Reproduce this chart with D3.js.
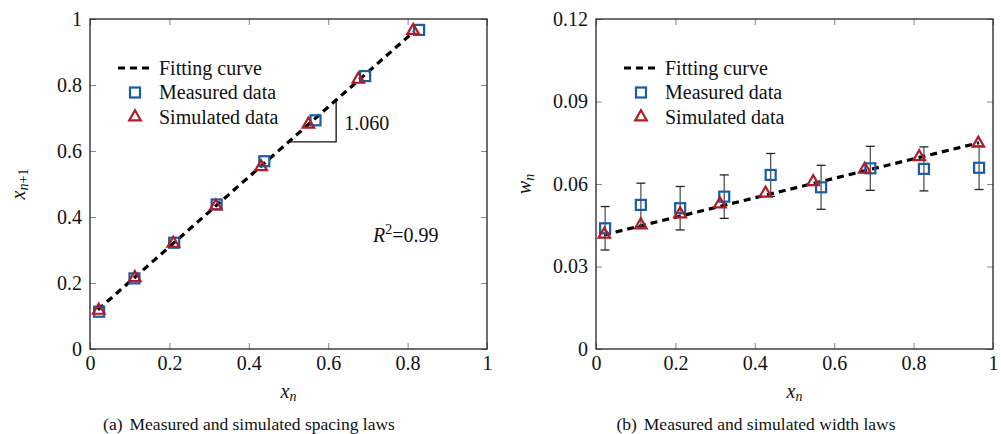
<!DOCTYPE html>
<html>
<head>
<meta charset="utf-8">
<style>
  html, body { margin: 0; padding: 0; background: #fff; }
  svg text { font-family: "Liberation Serif", "Times New Roman", serif; fill: #111; }
</style>
</head>
<body>
<div id="chart"></div>
<script src="https://cdn.jsdelivr.net/npm/d3@7"></script>
<script>
// ---- data ----
// (a) spacing law
const spMeasX = [0.023, 0.112, 0.212, 0.319, 0.439, 0.568, 0.693, 0.829];
const spMeasY = [0.113, 0.214, 0.322, 0.438, 0.569, 0.693, 0.827, 0.967];
const spSimX  = [0.022, 0.113, 0.210, 0.317, 0.431, 0.550, 0.676, 0.814];
const spSimY  = [0.117, 0.216, 0.320, 0.433, 0.552, 0.681, 0.817, 0.965];
const spFitX  = [0.02, 0.815];
const spFitY  = [0.119, 0.961];
const slopeX  = [0.5, 0.62];

// (b) width law
const wMeasX = [0.023, 0.113, 0.212, 0.323, 0.440, 0.567, 0.691, 0.826, 0.965];
const wMeasY = [0.0439, 0.0524, 0.0512, 0.0554, 0.0633, 0.0588, 0.0657, 0.0655, 0.0659];
const wMeasE = [0.0079, 0.0079, 0.0079, 0.0079, 0.0078, 0.0080, 0.0080, 0.0080, 0.0079];
const wSimX  = [0.021, 0.113, 0.212, 0.312, 0.427, 0.547, 0.677, 0.814, 0.963];
const wSimY  = [0.0417, 0.0451, 0.0491, 0.0527, 0.0566, 0.0608, 0.0653, 0.0699, 0.0748];
const wFitX  = [0.02, 0.965];
const wFitY  = [0.0415, 0.0750];

const xTicks = [0, 0.2, 0.4, 0.6, 0.8, 1];
const spYTicks = [0, 0.2, 0.4, 0.6, 0.8, 1];
const wYTicks = [0, 0.03, 0.06, 0.09, 0.12];

const legendNames = ["Fitting curve", "Measured data", "Simulated data"];

const blue = "#1a5ca8";
const red = "#b01c26";
const FONT = '"Liberation Serif", "Times New Roman", serif';

const width = 1001, height = 434;
const svg = d3.select("#chart").append("svg")
  .attr("width", width).attr("height", height)
  .style("font-family", FONT);

const fmt = d => String(d);

function panel(cfg) {
  const { x, y, xt, yt } = cfg;
  const g = svg.append("g");
  const [x0, x1] = x.range(), [y0, y1] = y.range();

  // ticks: inside on all four sides
  const tk = 6;
  const bottom = g.append("g").attr("transform", `translate(0,${y0})`)
    .call(d3.axisBottom(x).tickValues(xt).tickSizeInner(-tk).tickSizeOuter(0).tickPadding(7).tickFormat(fmt));
  const top = g.append("g").attr("transform", `translate(0,${y1})`)
    .call(d3.axisTop(x).tickValues(xt).tickSizeInner(-tk).tickSizeOuter(0).tickFormat(""));
  const left = g.append("g").attr("transform", `translate(${x0},0)`)
    .call(d3.axisLeft(y).tickValues(yt).tickSizeInner(-tk).tickSizeOuter(0).tickPadding(8).tickFormat(fmt));
  const right = g.append("g").attr("transform", `translate(${x1},0)`)
    .call(d3.axisRight(y).tickValues(yt).tickSizeInner(-tk).tickSizeOuter(0).tickFormat(""));
  [bottom, top, left, right].forEach(a => {
    a.attr("font-family", null).attr("font-size", null);
    a.select(".domain").remove();
    a.selectAll(".tick line").attr("stroke", "#888").attr("stroke-width", 1);
    a.selectAll(".tick text")
      .style("font-family", FONT).style("font-size", "20px").attr("fill", "#111");
  });

  g.append("rect")
    .attr("x", x0).attr("y", y1).attr("width", x1 - x0).attr("height", y0 - y1)
    .attr("fill", "none").attr("stroke", "#222").attr("stroke-width", 1.3);

  // fitting curve
  g.append("path")
    .datum(cfg.fitX.map((v, i) => [v, cfg.fitY[i]]))
    .attr("d", d3.line().x(d => x(d[0])).y(d => y(d[1])))
    .attr("fill", "none").attr("stroke", "#000").attr("stroke-width", 3.2)
    .attr("stroke-dasharray", "7,5");

  // error bars
  if (cfg.measE) {
    const eb = g.append("g");
    cfg.measX.forEach((v, i) => {
      const cx = x(v), ya = y(cfg.measY[i] + cfg.measE[i]), yb = y(cfg.measY[i] - cfg.measE[i]);
      eb.append("line").attr("x1", cx).attr("x2", cx).attr("y1", ya).attr("y2", yb)
        .attr("stroke", "#555").attr("stroke-width", 1.3);
      [ya, yb].forEach(yy => eb.append("line")
        .attr("x1", cx - 4.5).attr("x2", cx + 4.5).attr("y1", yy).attr("y2", yy)
        .attr("stroke", "#222").attr("stroke-width", 1.3));
    });
  }

  // measured squares
  g.append("g").selectAll("rect")
    .data(cfg.measX.map((v, i) => [v, cfg.measY[i]]))
    .join("rect")
    .attr("x", d => x(d[0]) - 5).attr("y", d => y(d[1]) - 5)
    .attr("width", 10).attr("height", 10)
    .attr("fill", "none").attr("stroke", blue).attr("stroke-width", 2.2);

  // simulated triangles
  const tri = d3.symbol().type(d3.symbolTriangle).size(58);
  g.append("g").selectAll("path")
    .data(cfg.simX.map((v, i) => [v, cfg.simY[i]]))
    .join("path")
    .attr("transform", d => `translate(${x(d[0])},${y(d[1])})`)
    .attr("d", tri)
    .attr("fill", "none").attr("stroke", red).attr("stroke-width", 2.2);

  // legend
  const lg = g.append("g");
  const rows = [68, 92.5, 117];
  lg.append("line").attr("x1", cfg.legX).attr("x2", cfg.legX + 31)
    .attr("y1", rows[0]).attr("y2", rows[0])
    .attr("stroke", "#000").attr("stroke-width", 3.2).attr("stroke-dasharray", "7,5");
  lg.append("rect").attr("x", cfg.legX + 12).attr("y", rows[1] - 5)
    .attr("width", 10).attr("height", 10)
    .attr("fill", "none").attr("stroke", blue).attr("stroke-width", 2.2);
  lg.append("path").attr("transform", `translate(${cfg.legX + 17},${rows[2]})`)
    .attr("d", tri).attr("fill", "none").attr("stroke", red).attr("stroke-width", 2.2);
  lg.selectAll("text").data(legendNames).join("text")
    .attr("x", cfg.legX + 41).attr("y", (d, i) => rows[i] + 6.5)
    .style("font-family", FONT).style("font-size", "20px").text(d => d);

  // x label
  const xl = g.append("text")
    .attr("x", (x0 + x1) / 2).attr("y", 398).attr("text-anchor", "middle")
    .style("font-family", FONT).style("font-size", "20px");
  xl.append("tspan").style("font-style", "italic").text("x");
  xl.append("tspan").style("font-style", "italic").style("font-size", "14px")
    .attr("dy", 3).text("n");

  // caption
  const cap = g.append("text")
    .attr("x", cfg.capX).attr("y", 430).attr("text-anchor", "middle")
    .style("font-family", FONT).style("font-size", "17.5px");
  cap.append("tspan").text(cfg.capTag);
  cap.append("tspan").attr("dx", 7).text(cfg.capText);

  return g;
}

// ---- (a) spacing ----
const xA = d3.scaleLinear([0, 1], [90, 487]);
const yA = d3.scaleLinear([0, 1], [349, 19]);
const gA = panel({
  x: xA, y: yA, xt: xTicks, yt: spYTicks,
  measX: spMeasX, measY: spMeasY, simX: spSimX, simY: spSimY,
  fitX: spFitX, fitY: spFitY, legX: 118,
  capX: 249, capTag: "(a)", capText: "Measured and simulated spacing laws"
});

// slope triangle under the fitting line
const fitA = d3.scaleLinear(spFitX, spFitY);
gA.append("path")
  .attr("d", `M${xA(slopeX[0])},${yA(fitA(slopeX[0]))}H${xA(slopeX[1])}V${yA(fitA(slopeX[1]))}`)
  .attr("fill", "none").attr("stroke", "#111").attr("stroke-width", 1.3);
gA.append("text").attr("x", xA(slopeX[1]) + 8).attr("y", 130)
  .style("font-family", FONT).style("font-size", "20px").text("1.060");

const r2 = gA.append("text").attr("x", 373).attr("y", 242)
  .style("font-family", FONT).style("font-size", "20px");
r2.append("tspan").style("font-style", "italic").text("R");
r2.append("tspan").attr("dy", -8).style("font-size", "14px").text("2");
r2.append("tspan").attr("dy", 8).text("=0.99");

// y label (a)
const ylA = gA.append("text")
  .attr("transform", `translate(25,184) rotate(-90)`)
  .attr("text-anchor", "middle").style("font-family", FONT).style("font-size", "20px");
ylA.append("tspan").style("font-style", "italic").text("x");
const subA = ylA.append("tspan").style("font-size", "14px").attr("dy", 3);
subA.append("tspan").style("font-style", "italic").text("n");
subA.append("tspan").text("+1");

// ---- (b) width ----
const xB = d3.scaleLinear([0, 1], [596, 993]);
const yB = d3.scaleLinear([0, 0.12], [349, 19]);
const gB = panel({
  x: xB, y: yB, xt: xTicks, yt: wYTicks,
  measX: wMeasX, measY: wMeasY, measE: wMeasE, simX: wSimX, simY: wSimY,
  fitX: wFitX, fitY: wFitY, legX: 624,
  capX: 756, capTag: "(b)", capText: "Measured and simulated width laws"
});

const ylB = gB.append("text")
  .attr("transform", `translate(531,184) rotate(-90)`)
  .attr("text-anchor", "middle").style("font-family", FONT).style("font-size", "20px");
ylB.append("tspan").style("font-style", "italic").text("w");
ylB.append("tspan").style("font-style", "italic").style("font-size", "14px").attr("dy", 3).text("n");
</script>
</body>
</html>
